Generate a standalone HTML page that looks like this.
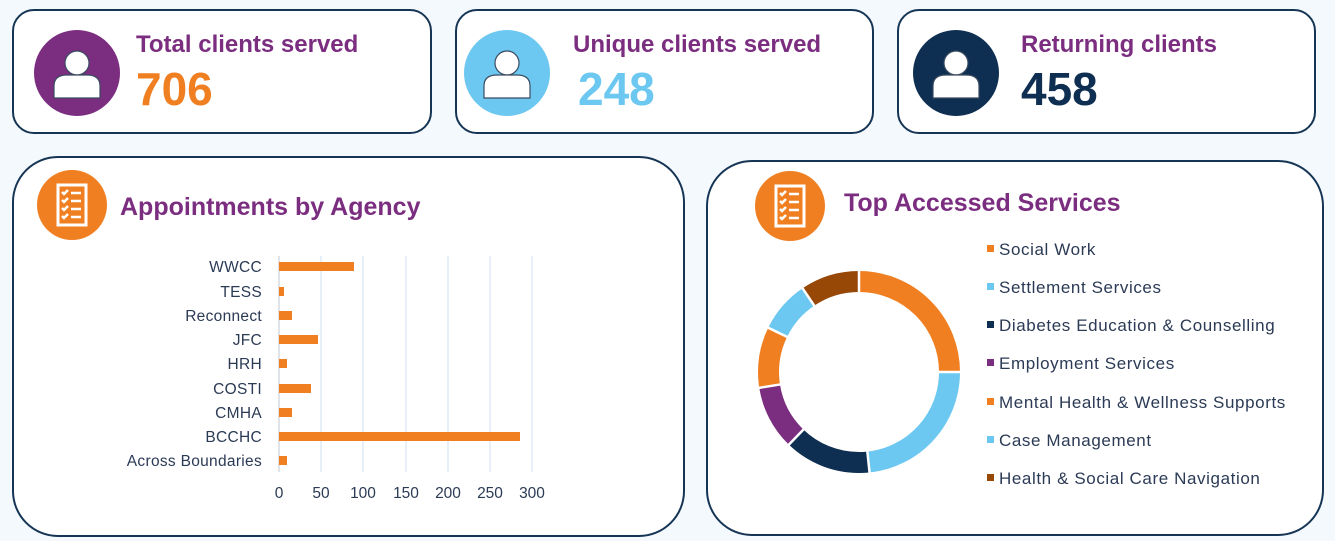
<!DOCTYPE html>
<html><head><style>
body{margin:0;width:1335px;height:541px;background:#f3f9fd;font-family:"Liberation Sans",sans-serif;position:relative;overflow:hidden}
.card{position:absolute;background:#fff;border:2px solid #163555;box-sizing:border-box}
.t{position:absolute;font-weight:bold;color:#7b2d80;font-size:24px;white-space:nowrap}
.n{position:absolute;font-weight:bold;font-size:46px;line-height:1}
svg text{font-family:"Liberation Sans",sans-serif}
</style></head><body>
<div class="card" style="left:12px;top:9px;width:420px;height:125px;border-radius:22px"></div>
<div class="card" style="left:455px;top:9px;width:419px;height:125px;border-radius:22px"></div>
<div class="card" style="left:897px;top:9px;width:419px;height:125px;border-radius:22px"></div>
<div class="card" style="left:12px;top:156px;width:673px;height:381px;border-radius:46px"></div>
<div class="card" style="left:706px;top:160px;width:618px;height:376px;border-radius:46px"></div>

<svg width="1335" height="541" style="position:absolute;left:0;top:0">
<defs>
<g id="person"><circle cx="0" cy="-13" r="12" fill="#fff" stroke="#3a4a60" stroke-width="1.2"/><path d="M-23 22 V10 Q-23 -1 -10 -1 H10 Q23 -1 23 10 V22 Z" fill="#fff" stroke="#3a4a60" stroke-width="1.2"/></g>
<g id="list"><circle r="35" fill="#f07f22"/><rect x="-14" y="-20" width="28" height="40" fill="none" stroke="#fff" stroke-width="3"/>
<g stroke="#fff" stroke-width="2.5" fill="none"><path d="M-10 -13 l2 2 l4 -4 M-10 -5 l2 2 l4 -4 M-10 3 l2 2 l4 -4 M-10 11 l2 2 l4 -4"/><path d="M-1 -12 H9 M-1 -4 H9 M-1 4 H9 M-1 12 H9"/></g></g>
</defs>
<circle cx="77" cy="73" r="43" fill="#7b2d80"/><use href="#person" x="77" y="76"/>
<circle cx="507" cy="73" r="43" fill="#6cc8f0"/><use href="#person" x="507" y="76"/>
<circle cx="956" cy="73" r="43" fill="#0e2f52"/><use href="#person" x="956" y="76"/>
<use href="#list" x="72" y="205"/>
<use href="#list" x="790" y="206"/>
<g stroke="#cfe0f3" stroke-width="1">
<line x1="321" y1="256" x2="321" y2="472"/><line x1="363" y1="256" x2="363" y2="472"/><line x1="406" y1="256" x2="406" y2="472"/><line x1="448" y1="256" x2="448" y2="472"/><line x1="490" y1="256" x2="490" y2="472"/><line x1="532" y1="256" x2="532" y2="472"/>
</g>
<line x1="279" y1="256" x2="279" y2="472" stroke="#c0c8d0"/>
<g fill="#f07f22">
<rect x="279" y="262" width="75" height="9"/><rect x="279" y="287" width="5" height="9"/><rect x="279" y="311" width="13" height="9"/><rect x="279" y="335" width="39" height="9"/><rect x="279" y="359" width="8" height="9"/><rect x="279" y="384" width="32" height="9"/><rect x="279" y="408" width="13" height="9"/><rect x="279" y="432" width="241" height="9"/><rect x="279" y="456" width="8" height="9"/>
</g>
<g font-size="15.5" fill="#2b3a55" text-anchor="end" letter-spacing="0.3">
<text x="262" y="272">WWCC</text><text x="262" y="297">TESS</text><text x="262" y="321">Reconnect</text><text x="262" y="345">JFC</text><text x="262" y="369">HRH</text><text x="262" y="394">COSTI</text><text x="262" y="418">CMHA</text><text x="262" y="442">BCCHC</text><text x="262" y="466">Across Boundaries</text>
</g>
<g font-size="15.5" fill="#2b3a55" text-anchor="middle">
<text x="279" y="498">0</text><text x="321" y="498">50</text><text x="363" y="498">100</text><text x="406" y="498">150</text><text x="448" y="498">200</text><text x="490" y="498">250</text><text x="532" y="498">300</text>
</g>
<g fill="none" stroke-width="21" transform="translate(859,372) rotate(-90)">
<circle r="90.5" stroke="#f07f22" stroke-dasharray="142.2 1000" stroke-dashoffset="0"/>
<circle r="90.5" stroke="#6cc8f0" stroke-dasharray="132.7 1000" stroke-dashoffset="-142.2"/>
<circle r="90.5" stroke="#0e2f52" stroke-dasharray="79 1000" stroke-dashoffset="-274.8"/>
<circle r="90.5" stroke="#7b2d80" stroke-dasharray="58.4 1000" stroke-dashoffset="-353.8"/>
<circle r="90.5" stroke="#f07f22" stroke-dasharray="55.3 1000" stroke-dashoffset="-412.3"/>
<circle r="90.5" stroke="#6cc8f0" stroke-dasharray="47.4 1000" stroke-dashoffset="-467.6"/>
<circle r="90.5" stroke="#974706" stroke-dasharray="53.7 1000" stroke-dashoffset="-515"/>
</g>
<g stroke="#fff" stroke-width="2.5" transform="translate(859,372)">
<line x1="0" y1="-78" x2="0" y2="-103" transform="rotate(0)"/><line x1="0" y1="-78" x2="0" y2="-103" transform="rotate(90)"/><line x1="0" y1="-78" x2="0" y2="-103" transform="rotate(174)"/><line x1="0" y1="-78" x2="0" y2="-103" transform="rotate(224)"/><line x1="0" y1="-78" x2="0" y2="-103" transform="rotate(261)"/><line x1="0" y1="-78" x2="0" y2="-103" transform="rotate(296)"/><line x1="0" y1="-78" x2="0" y2="-103" transform="rotate(326)"/>
</g>
<g font-size="17" fill="#2b3a55" letter-spacing="0.6">
<rect x="987" y="245" width="7" height="7" fill="#f07f22"/><text x="999" y="255">Social Work</text>
<rect x="987" y="283" width="7" height="7" fill="#6cc8f0"/><text x="999" y="293">Settlement Services</text>
<rect x="987" y="321" width="7" height="7" fill="#0e2f52"/><text x="999" y="331">Diabetes Education &amp; Counselling</text>
<rect x="987" y="359" width="7" height="7" fill="#7b2d80"/><text x="999" y="369">Employment Services</text>
<rect x="987" y="398" width="7" height="7" fill="#f07f22"/><text x="999" y="408">Mental Health &amp; Wellness Supports</text>
<rect x="987" y="436" width="7" height="7" fill="#6cc8f0"/><text x="999" y="446">Case Management</text>
<rect x="987" y="474" width="7" height="7" fill="#974706"/><text x="999" y="484">Health &amp; Social Care Navigation</text>
</g>
</svg>
<div class="t" style="left:136px;top:31px">Total clients served</div>
<div class="n" style="left:136px;top:66px;color:#f07f22">706</div>
<div class="t" style="left:573px;top:31px">Unique clients served</div>
<div class="n" style="left:578px;top:66px;color:#6cc8f0">248</div>
<div class="t" style="left:1021px;top:31px">Returning clients</div>
<div class="n" style="left:1021px;top:66px;color:#0e2f52">458</div>
<div class="t" style="left:120px;top:193px;font-size:25px">Appointments by Agency</div>
<div class="t" style="left:844px;top:189px;font-size:25px">Top Accessed Services</div>
</body></html>
